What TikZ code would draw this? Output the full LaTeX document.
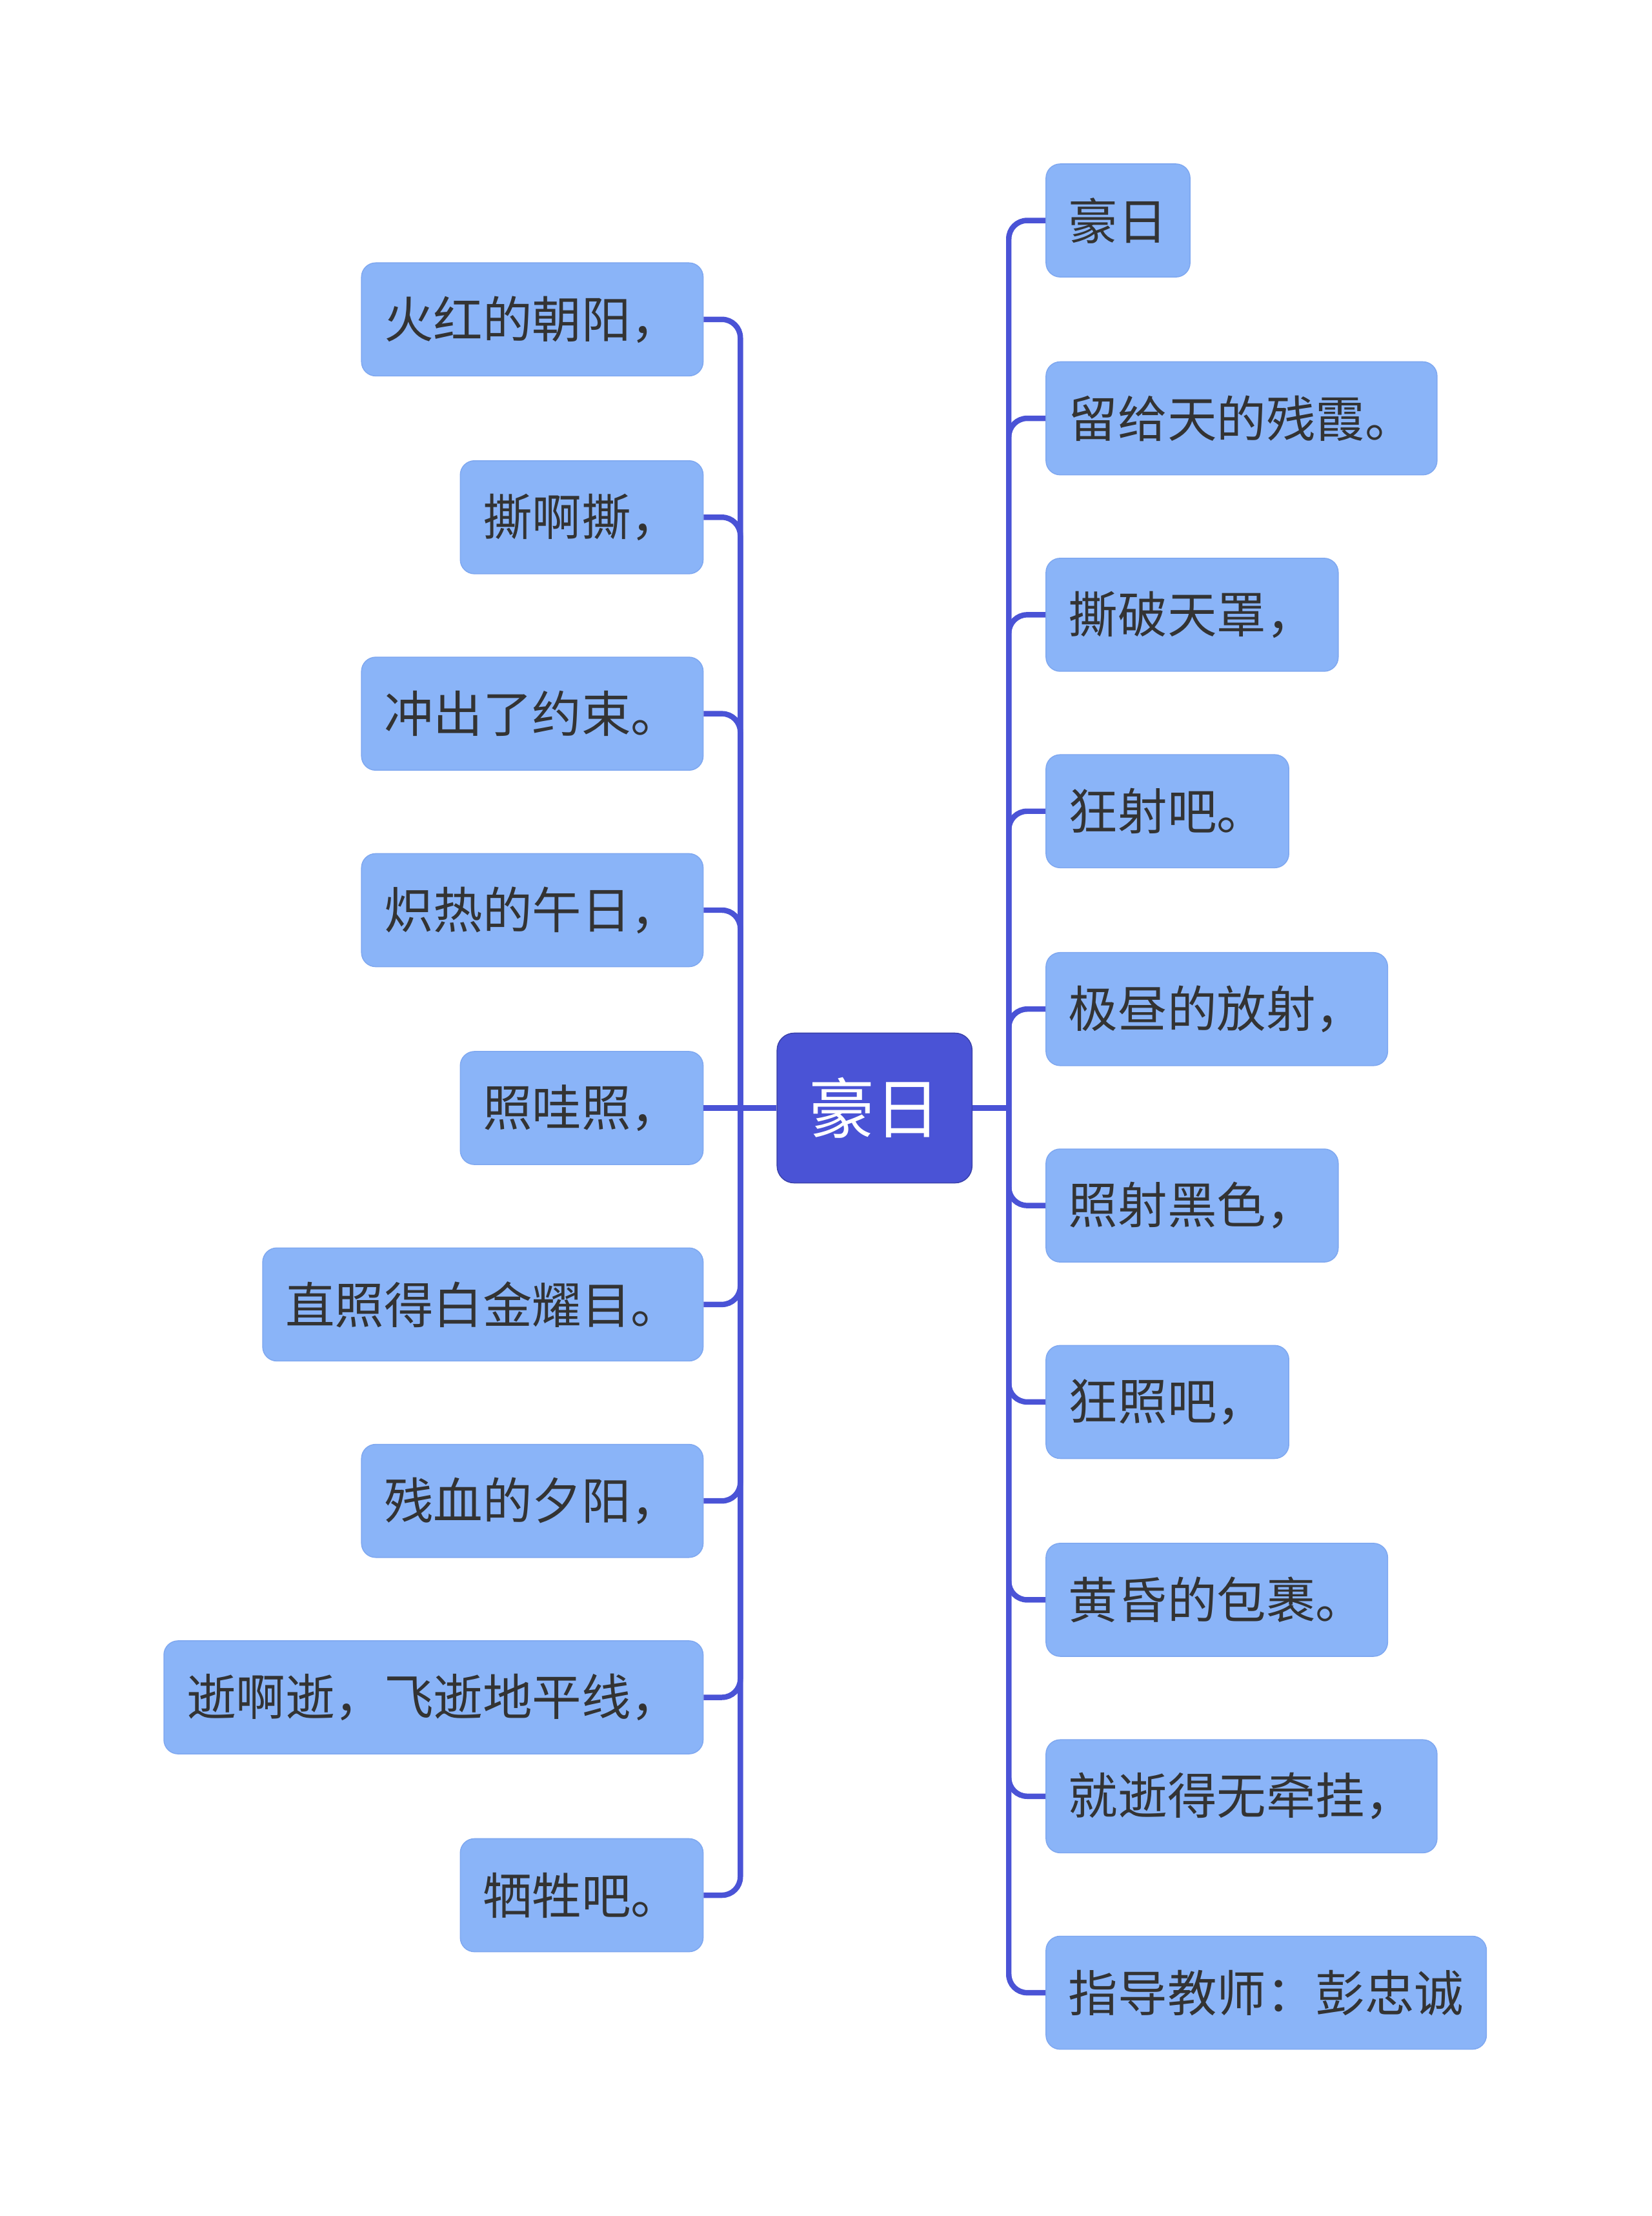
\documentclass[tikz,border=0pt]{standalone}
\usepackage{fontspec}
\newfontfamily\cjk{Noto Sans CJK SC}
\definecolor{rootblue}{HTML}{4A53D6}
\definecolor{leafblue}{HTML}{8AB4F8}
\definecolor{leafedge}{HTML}{7FA8F0}
\definecolor{inkgray}{HTML}{333333}
\tikzset{
  leaf/.style={fill=leafblue, draw=leafedge, line width=0.4pt, rounded corners=0.2cm,
    minimum height=1.6cm, inner xsep=0.32cm, inner ysep=0pt, text=inkgray,
    font=\cjk\fontsize{19.9pt}{24pt}\selectfont},
  root/.style={fill=rootblue, draw=rootblue!80!black, line width=0.4pt, rounded corners=0.24cm,
    minimum width=2.76cm, minimum height=2.12cm, text=white,
    font=\cjk\fontsize{26.5pt}{30pt}\selectfont},
  branch/.style={draw=rootblue, line width=2.2pt, rounded corners=0.26cm},
}
\begin{document}
\begin{tikzpicture}[x=0.02cm, y=-0.02cm]
    \useasboundingbox (0,0) rectangle (1169,1568);

    \node[root] (root) at (619,784) {豪日};

    \node[leaf, anchor=east] (l1) at (498,226) {火红的朝阳，};
    \node[leaf, anchor=east] (l2) at (498,366) {撕啊撕，};
    \node[leaf, anchor=east] (l3) at (498,505) {冲出了约束。};
    \node[leaf, anchor=east] (l4) at (498,644) {炽热的午日，};
    \node[leaf, anchor=east] (l5) at (498,784) {照哇照，};
    \node[leaf, anchor=east] (l6) at (498,923) {直照得白金耀目。};
    \node[leaf, anchor=east] (l7) at (498,1062) {残血的夕阳，};
    \node[leaf, anchor=east] (l8) at (498,1201) {逝啊逝，飞逝地平线，};
    \node[leaf, anchor=east] (l9) at (498,1341) {牺牲吧。};

    \node[leaf, anchor=west] (r1) at (740,156) {豪日};
    \node[leaf, anchor=west] (r2) at (740,296) {留给天的残霞。};
    \node[leaf, anchor=west] (r3) at (740,435) {撕破天罩，};
    \node[leaf, anchor=west] (r4) at (740,574) {狂射吧。};
    \node[leaf, anchor=west] (r5) at (740,714) {极昼的放射，};
    \node[leaf, anchor=west] (r6) at (740,853) {照射黑色，};
    \node[leaf, anchor=west] (r7) at (740,992) {狂照吧，};
    \node[leaf, anchor=west] (r8) at (740,1132) {黄昏的包裹。};
    \node[leaf, anchor=west] (r9) at (740,1271) {就逝得无牵挂，};
    \node[leaf, anchor=west] (r10) at (740,1410) {指导教师：彭忠诚};

    \coordinate (lj) at (524,784);
    \coordinate (rj) at (714,784);
    \draw[branch] (root.west) -- (lj);
    \draw[branch] (root.east) -- (rj);
    \foreach \n in {l1,l2,l3,l4,l6,l7,l8,l9}
        \draw[branch] (lj) |- (\n.east);
    \draw[branch] (lj) -- (l5.east);
    \foreach \n in {r1,r2,r3,r4,r5,r6,r7,r8,r9,r10}
        \draw[branch] (rj) |- (\n.west);
\end{tikzpicture}
\end{document}
